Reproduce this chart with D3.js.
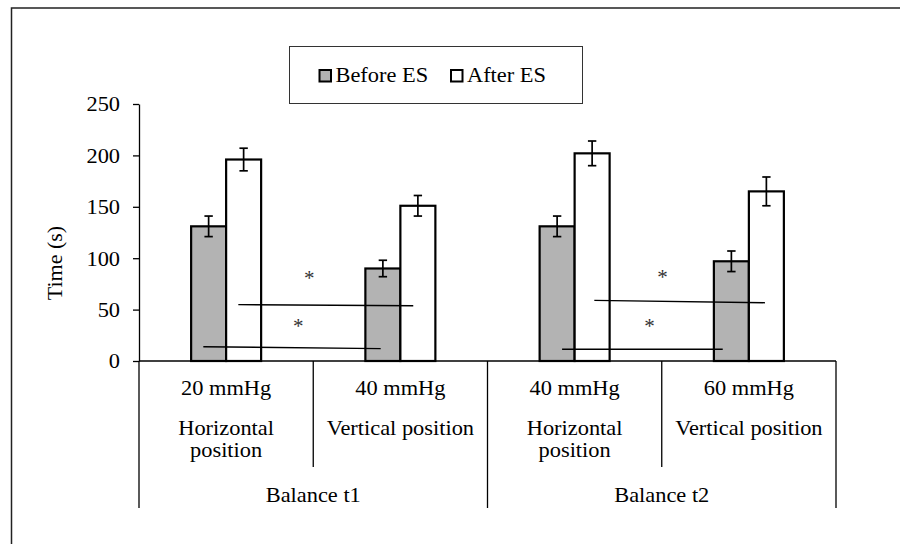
<!DOCTYPE html>
<html><head><meta charset="utf-8">
<script src="https://cdn.jsdelivr.net/npm/d3@7"></script>
<style>
html,body{margin:0;padding:0;background:#fff;}
</style></head>
<body><svg id="c" width="900" height="544" style="font-family:'Liberation Serif','DejaVu Serif',serif"></svg>
<script>
// ---- data ----
const categories = ["20 mmHg", "40 mmHg", "40 mmHg", "60 mmHg"];
const positions = [["Horizontal", "position"], ["Vertical position"], ["Horizontal", "position"], ["Vertical position"]];
const groups = ["Balance t1", "Balance t2"];
const seriesNames = ["Before ES", "After ES"];
const beforeES = [131, 90, 131, 97];
const afterES = [196, 151, 202, 165];
const beforeErr = [10, 8, 10, 10];
const afterErr = [11, 10, 12, 14];
const yTicks = [0, 50, 100, 150, 200, 250];
// significance lines: [x0 (category units), value0, x1, value1]
const sigLines = [[0.57, 54.8, 1.574, 53.8], [0.369, 13.9, 1.387, 12.0], [2.613, 59.0, 3.592, 56.7], [2.428, 11.4, 3.35, 11.4]];
// asterisks: [x (category units), value]
const stars = [[0.977, 83.7], [0.914, 37.3], [3.005, 84.3], [2.929, 37.3]];

(function () {
const svg = d3.select("#c");
const FONT = "Liberation Serif";
const FS = 20, SX = 1.12;
const pL = 139, pR = 836, pT = 104, pB = 361;
const x = d3.scaleBand().domain(d3.range(categories.length)).range([pL, pR]).padding(0);
const xc = d3.scaleLinear().domain([0, categories.length]).range([pL, pR]);
const y = d3.scaleLinear().domain([0, 250]).range([pB, pT]);
const colors = ["#b3b3b3", "#ffffff"];
const barW = 35;

function label(px, py, str, anchor) {
  return svg.append("text")
    .attr("transform", `translate(${px},${py}) scale(${SX},1)`)
    .attr("text-anchor", anchor || "middle")
    .attr("font-family", FONT).attr("font-size", FS).attr("fill", "#000")
    .text(str);
}

// frame
svg.append("path").attr("d", "M11.5,544 V8 H900").attr("fill", "none").attr("stroke", "#222").attr("stroke-width", 1.5);

// legend
const lg = svg.append("g");
lg.append("rect").attr("x", 289.5).attr("y", 46.5).attr("width", 293).attr("height", 57).attr("fill", "none").attr("stroke", "#333").attr("stroke-width", 1);
const legX = [319.5, 451];
seriesNames.forEach((n, i) => {
  lg.append("rect").attr("x", legX[i]).attr("y", 70).attr("width", 11.5).attr("height", 11.5).attr("fill", colors[i]).attr("stroke", "#000").attr("stroke-width", 2);
  label(legX[i] + 16, 82, n, "start");
});

// y axis
const yAxis = svg.append("g").attr("transform", `translate(${pL},0)`)
  .call(d3.axisLeft(y).tickValues(yTicks).tickSize(6).tickPadding(13).tickSizeOuter(0));
yAxis.attr("font-family", FONT);
yAxis.select(".domain").attr("stroke", "#000").attr("stroke-width", 1.3);
yAxis.selectAll(".tick line").attr("stroke", "#000").attr("stroke-width", 1.3);
yAxis.selectAll(".tick text").attr("font-size", FS).attr("font-family", FONT).attr("fill", "#000")
  .attr("transform", `scale(${SX},1)`)
  .attr("x", -19 / SX).attr("dy", "0.34em");

svg.append("text").attr("transform", `translate(62,263) rotate(-90)`).attr("text-anchor", "middle")
  .attr("font-family", FONT).attr("font-size", 22).attr("fill", "#000").text("Time (s)");

// bars
const series = [beforeES, afterES];
const errs = [beforeErr, afterErr];
series.forEach((vals, s) => {
  const g = svg.append("g");
  vals.forEach((v, i) => {
    const cx = x(i) + x.bandwidth() / 2;
    const x0 = s === 0 ? cx - barW : cx;
    g.append("rect").attr("x", x0).attr("y", y(v)).attr("width", barW).attr("height", y(0) - y(v))
      .attr("fill", colors[s]).attr("stroke", "#000").attr("stroke-width", 2.2);
    const mx = x0 + barW / 2;
    const e = errs[s][i];
    g.append("line").attr("x1", mx).attr("x2", mx).attr("y1", y(v + e)).attr("y2", y(v - e)).attr("stroke", "#000").attr("stroke-width", 1.7);
    [v + e, v - e].forEach(t => g.append("line").attr("x1", mx - 4.2).attr("x2", mx + 4.2).attr("y1", y(t)).attr("y2", y(t)).attr("stroke", "#000").attr("stroke-width", 1.7));
  });
});

// x axis line and category dividers
svg.append("line").attr("x1", pL).attr("x2", pR).attr("y1", y(0)).attr("y2", y(0)).attr("stroke", "#000").attr("stroke-width", 1.3);
d3.range(categories.length + 1).forEach(i => {
  const xx = xc(i);
  const isGroup = i % 2 === 0;
  svg.append("line").attr("x1", xx).attr("x2", xx).attr("y1", y(0)).attr("y2", isGroup ? 508 : 467).attr("stroke", "#000").attr("stroke-width", 1.3);
});

// category labels
categories.forEach((c, i) => {
  const cx = x(i) + x.bandwidth() / 2;
  label(cx, 395, c);
  positions[i].forEach((p, j) => label(cx, 434.5 + j * 22.5, p));
});
groups.forEach((g, i) => {
  label((xc(i * 2) + xc(i * 2 + 2)) / 2, 502, g);
});

// significance lines and asterisks
sigLines.forEach(l => {
  svg.append("line").attr("x1", xc(l[0])).attr("y1", y(l[1])).attr("x2", xc(l[2])).attr("y2", y(l[3])).attr("stroke", "#000").attr("stroke-width", 1.4);
});
stars.forEach(s => {
  svg.append("text").attr("x", xc(s[0])).attr("y", y(s[1]) + 10).attr("text-anchor", "middle")
    .attr("font-family", FONT).attr("font-size", 21).attr("fill", "#333").text("*");
});
})();
</script></body></html>
